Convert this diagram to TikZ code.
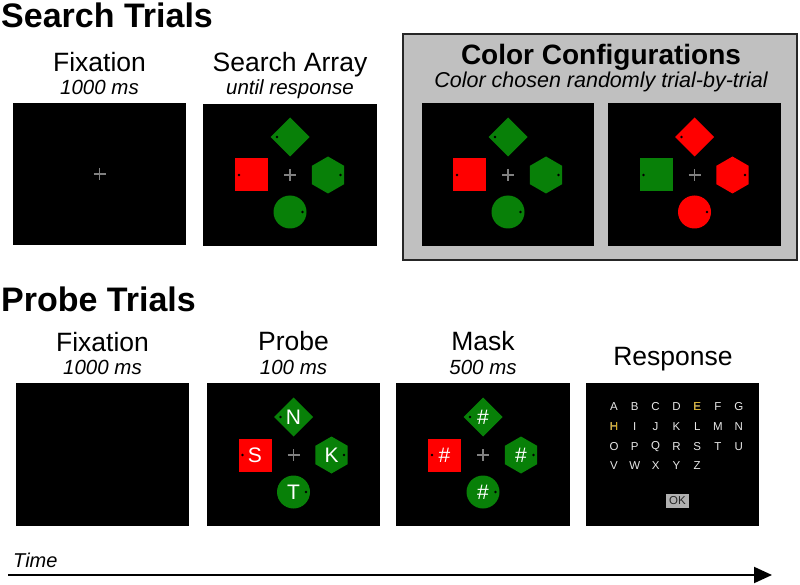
\documentclass[tikz,border=0pt]{standalone}
\usepackage{fontspec}
\setmainfont{Liberation Sans}
\usetikzlibrary{arrows.meta}
\definecolor{sgreen}{RGB}{8,128,8}
\definecolor{sred}{RGB}{255,0,0}
\definecolor{boxgray}{RGB}{192,192,192}
\definecolor{crossgray}{RGB}{128,128,128}
\definecolor{gold}{RGB}{214,170,30}
\definecolor{lettergray}{RGB}{232,232,232}
\definecolor{okgray}{RGB}{176,176,176}
\newcommand{\fsz}[1]{\fontsize{#1}{#1}\selectfont}
\tikzset{
  panel/.style={fill=black},
  heading/.style={anchor=base west, inner sep=0pt, font=\fsz{34}\bfseries},
  ttl/.style={anchor=base, inner sep=0pt, font=\fsz{26.5}},
  subttl/.style={anchor=base, inner sep=0pt, font=\fsz{20.5}\itshape},
  stimletter/.style={text=white, inner sep=0pt, font=\fsz{21}},
  keyletter/.style={text=lettergray, inner sep=0pt, font=\fsz{11.5}},
  pics/fixcross/.style={code={\draw[crossgray, line width=1.6pt] (-6,0) -- (6,0) (0,-6) -- (0,6);}},
  pics/stim/.style 2 args={code={
    \fill[#2] (0,-57.5) -- (19.5,-38) -- (0,-18.5) -- (-19.5,-38) -- cycle;
    \fill[#1] (-55,-16.5) rectangle (-22,16.5);
    \fill[#2] (38,0) +(90:18.5) -- +(150:18.5) -- +(210:18.5) -- +(270:18.5) -- +(330:18.5) -- +(30:18.5) -- cycle;
    \fill[#2] (0,37) circle (16.5);
    \fill[black] (-13,-38) circle (1.3) (-51,0) circle (1.3) (50.5,0) circle (1.3) (12.5,37) circle (1.3);
    \pic {fixcross};
  }}
}
\begin{document}
\begin{tikzpicture}[x=1pt,y=-1pt]
\useasboundingbox (0,0) rectangle (800,585);

% ---------- Search trials ----------
\node[heading] (searchhead) at (1,28) {Search Trials};

\fill[panel] (13,103) rectangle (186,245);
\pic at (99.5,174) {fixcross};
\node[ttl] (fix1) at (99.5,72) {Fixation};
\node[subttl] (fix1t) at (99.5,94.5) {1000 ms};

\fill[panel] (203,104) rectangle (377,246);
\pic at (290,175) {stim={sred}{sgreen}};
\node[ttl] (sa) at (290,72) {Search Array};
\node[subttl] (sat) at (290,94.5) {until response};

% color configurations box
\draw[fill=boxgray, draw=black!85, line width=1.8pt] (403,34) rectangle (797,260);
\node[anchor=base, inner sep=0pt, font=\fsz{28}\bfseries] (cc) at (601,65) {Color Configurations};
\node[anchor=base, inner sep=0pt, font=\fsz{21.5}\itshape] (cct) at (601,88) {Color chosen randomly trial-by-trial};
\fill[panel] (422,103) rectangle (594,246);
\pic at (508,175) {stim={sred}{sgreen}};
\fill[panel] (608,103) rectangle (781,246);
\pic at (694.5,175) {stim={sgreen}{sred}};

% ---------- Probe trials ----------
\node[heading] (probehead) at (1,311) {Probe Trials};

\fill[panel] (16,383) rectangle (189,526);
\node[ttl] (fix2) at (102.5,351) {Fixation};
\node[subttl] (fix2t) at (102.5,374) {1000 ms};

\fill[panel] (207,383) rectangle (380,526);
\pic at (293.5,455) {stim={sred}{sgreen}};
\node[ttl] (pr) at (293.5,350) {Probe};
\node[subttl] (prt) at (293.5,374) {100 ms};
\node[stimletter] (pN) at (293.5,417) {N};
\node[stimletter] (pS) at (255,455) {S};
\node[stimletter] (pK) at (331.5,455) {K};
\node[stimletter] (pT) at (293.5,492) {T};

\fill[panel] (396,383) rectangle (570,526);
\pic at (483,455) {stim={sred}{sgreen}};
\node[ttl] (mk) at (483,350) {Mask};
\node[subttl] (mkt) at (483,374) {500 ms};
\node[stimletter] (mN) at (483,417) {\#};
\node[stimletter] (mS) at (444.5,455) {\#};
\node[stimletter] (mK) at (521,455) {\#};
\node[stimletter] (mT) at (483,492) {\#};

\fill[panel] (586,383) rectangle (759,526);
\node[ttl] (resp) at (673,365) {Response};
\foreach \L [count=\i from 0] in {A,B,C,D,E,F,G,H,I,J,K,L,M,N,O,P,Q,R,S,T,U,V,W,X,Y,Z}{
  \pgfmathtruncatemacro{\col}{mod(\i,7)}
  \pgfmathtruncatemacro{\row}{div(\i,7)}
  \node[keyletter] (key\L) at ({614+20.8*\col},{407+19.6*\row}) {\L};
}
\node[keyletter, text=gold] at (keyE) {E};
\node[keyletter, text=gold] at (keyH) {H};
\node[fill=okgray, text=black!85, minimum width=23pt, minimum height=14pt, inner sep=0pt, font=\fsz{11.5}] (ok) at (677.5,501) {OK};

% ---------- Time arrow ----------
\node[anchor=base west, inner sep=0pt, font=\fsz{20}\itshape] (time) at (13,567) {Time};
\coordinate (tstart) at (8,575);
\coordinate (tend) at (772,575);
\draw[line width=2pt, -{Triangle[length=18pt,width=16pt]}] (tstart) -- (tend);
\end{tikzpicture}
\end{document}
